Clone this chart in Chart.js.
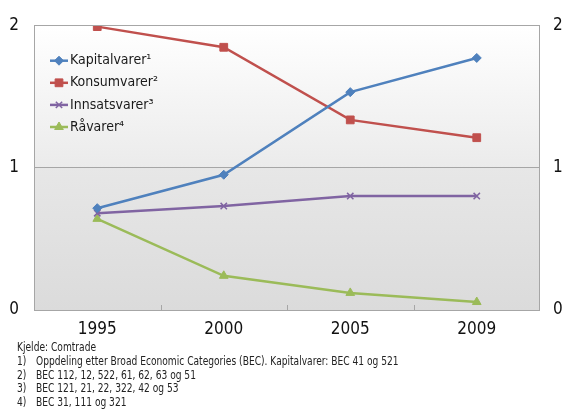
<!DOCTYPE html>
<html>
<head>
<meta charset="utf-8">
<script src="https://cdn.jsdelivr.net/npm/chart.js@4/dist/chart.umd.min.js"></script>
<style>
  html, body { margin: 0; padding: 0; background: #ffffff; }
  #wrap { position: relative; width: 563px; height: 410px; }
  #chart { position: absolute; left: 0; top: 0; }
  #notes {
    position: absolute; left: 17px; top: 341px;
    font-family: "DejaVu Sans Condensed", "Liberation Sans", sans-serif;
    font-size: 11.5px; line-height: 13.8px; color: #222;
    transform: scaleX(0.88); transform-origin: 0 0; white-space: nowrap;
  }
  #notes .n { display: inline-block; width: 21.6px; }
</style>
</head>
<body>
<div id="wrap">
  <canvas id="chart" width="563" height="345"></canvas>
  <div id="notes">
    <div>Kjelde: Comtrade</div>
    <div><span class="n">1)</span>Oppdeling etter Broad Economic Categories (BEC). Kapitalvarer: BEC 41 og 521</div>
    <div><span class="n">2)</span>BEC 112, 12, 522, 61, 62, 63 og 51</div>
    <div><span class="n">3)</span>BEC 121, 21, 22, 322, 42 og 53</div>
    <div><span class="n">4)</span>BEC 31, 111 og 321</div>
  </div>
</div>
<script>
// Years on the category axis
const years = ['1995', '2000', '2005', '2009'];

// Series values
const kapitalvarer = [0.715, 0.95, 1.53, 1.77];
const konsumvarer  = [1.99, 1.845, 1.335, 1.21];
const innsatsvarer = [0.68, 0.73, 0.80, 0.80];
const raavarer     = [0.64, 0.24, 0.12, 0.056];

// Series names
const seriesNames = ['Kapitalvarer\u00B9', 'Konsumvarer\u00B2', 'Innsatsvarer\u00B3', 'R\u00E5varer\u2074'];

// Value axis
const yMin = 0, yMax = 2, yStep = 1;

const FONT = '"DejaVu Sans Condensed", "Liberation Sans", sans-serif';
const GRID = '#a6a6a6';

// Plot background: light gradient above the 1-line, darker gradient below
const plotBackground = {
  id: 'plotBackground',
  beforeDraw(chart) {
    const { ctx, chartArea: a, scales } = chart;
    const yMid = scales.y.getPixelForValue(1);
    ctx.save();
    let g = ctx.createLinearGradient(0, a.top, 0, yMid);
    g.addColorStop(0, '#ffffff');
    g.addColorStop(1, '#ebebeb');
    ctx.fillStyle = g;
    ctx.fillRect(a.left, a.top, a.right - a.left, yMid - a.top);
    g = ctx.createLinearGradient(0, yMid, 0, a.bottom);
    g.addColorStop(0, '#e7e7e7');
    g.addColorStop(1, '#dbdbdb');
    ctx.fillStyle = g;
    ctx.fillRect(a.left, yMid, a.right - a.left, a.bottom - yMid);
    ctx.restore();
  },
  afterDraw(chart) {
    // short inward tick marks between categories on the bottom edge
    const { ctx, chartArea: a, scales } = chart;
    const x = scales.x;
    ctx.save();
    ctx.strokeStyle = GRID;
    ctx.lineWidth = 1;
    for (let i = 1; i < years.length; i++) {
      const px = Math.round((x.getPixelForTick(i - 1) + x.getPixelForTick(i)) / 2) + 0.5;
      ctx.beginPath();
      ctx.moveTo(px, a.bottom);
      ctx.lineTo(px, a.bottom - 5);
      ctx.stroke();
    }
    ctx.strokeRect(Math.round(a.left) + 0.5, Math.round(a.top) + 0.5,
                   Math.round(a.right - a.left) - 1, Math.round(a.bottom - a.top));
    ctx.restore();
  }
};

// Legend drawn inside the upper-left corner of the plot
const insideLegend = {
  id: 'insideLegend',
  afterDatasetsDraw(chart) {
    const { ctx, chartArea: a } = chart;
    const x0 = a.left + 16, x1 = a.left + 34, tx = a.left + 36;
    ctx.save();
    chart.data.datasets.forEach((ds, i) => {
      const y = a.top + 35.5 + i * 22.1;
      ctx.strokeStyle = ds.borderColor;
      ctx.lineWidth = 2.5;
      ctx.beginPath();
      ctx.moveTo(x0, y);
      ctx.lineTo(x1, y);
      ctx.stroke();
      ctx.fillStyle = ds.pointBackgroundColor;
      ctx.strokeStyle = ds.pointBorderColor;
      ctx.lineWidth = ds.pointBorderWidth;
      Chart.helpers.drawPoint(ctx, { pointStyle: ds.pointStyle, radius: ds.pointRadius, borderWidth: ds.pointBorderWidth, rotation: 0 }, (x0 + x1) / 2, y);
      ctx.fillStyle = '#1a1a1a';
      ctx.font = '14px ' + FONT;
      ctx.textBaseline = 'middle';
      ctx.textAlign = 'left';
      ctx.fillText(ds.label, tx, y);
    });
    ctx.restore();
  }
};

function series(label, data, color, style, radius, bw) {
  return {
    label, data,
    borderColor: color, backgroundColor: color,
    pointBackgroundColor: color, pointBorderColor: color,
    pointStyle: style, pointRadius: radius, pointHoverRadius: radius,
    pointBorderWidth: bw, borderWidth: 2.5, tension: 0, fill: false
  };
}

new Chart(document.getElementById('chart'), {
  type: 'line',
  data: {
    labels: years,
    datasets: [
      series(seriesNames[0], kapitalvarer, '#4f81bd', 'rectRot', 4.5, 1),
      series(seriesNames[1], konsumvarer, '#c0504d', 'rect', 5.5, 1),
      series(seriesNames[2], innsatsvarer, '#8064a2', 'crossRot', 4.5, 1.5),
      series(seriesNames[3], raavarer, '#9bbb59', 'triangle', 5, 1)
    ]
  },
  options: {
    responsive: false,
    animation: false,
    events: [],
    layout: { padding: { top: 22, left: 0, right: 0, bottom: 0 } },
    plugins: { legend: { display: false }, tooltip: { enabled: false } },
    scales: {
      x: {
        offset: true,
        grid: { display: false, drawTicks: false },
        border: { display: false },
        ticks: { color: '#111', font: { family: FONT, size: 17 }, padding: 9 },
        afterFit(s) { s.height = 35; }
      },
      y: {
        position: 'left',
        min: yMin, max: yMax,
        grid: { color: GRID, drawTicks: false },
        border: { display: false },
        ticks: { stepSize: yStep, color: '#111', font: { family: FONT, size: 17 }, padding: 15 },
        afterFit(s) { s.width = 34; }
      },
      y2: {
        position: 'right',
        min: yMin, max: yMax,
        grid: { display: false, drawTicks: false },
        border: { display: false },
        ticks: { stepSize: yStep, color: '#111', font: { family: FONT, size: 17 }, padding: 13 },
        afterFit(s) { s.width = 23; }
      }
    }
  },
  plugins: [plotBackground, insideLegend]
});
</script>
</body>
</html>
